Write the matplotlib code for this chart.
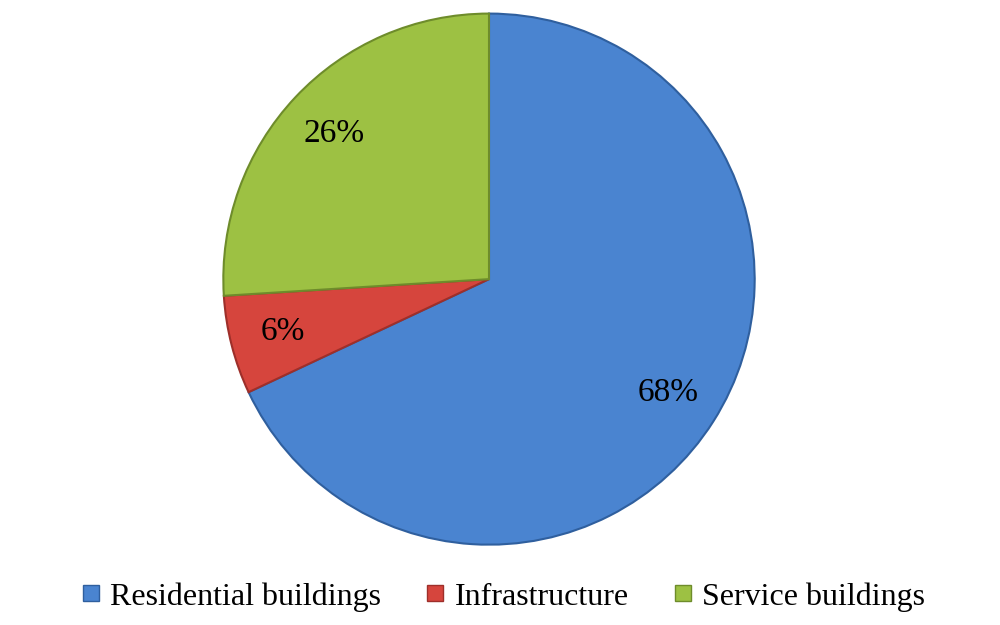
import matplotlib.pyplot as plt
from matplotlib.lines import Line2D

categories = ['Residential buildings', 'Infrastructure', 'Service buildings']
shares = [68, 6, 26]
colors = ['#4a84d0', '#d6453d', '#9dc143']
edges = ['#2f5f9e', '#9e2f2a', '#6e8c2b']

plt.rcParams['font.family'] = ['Liberation Serif', 'DejaVu Serif']

fig = plt.figure(figsize=(10, 6.25), dpi=100)
ax = fig.add_axes([0.222, 0.1264, 0.534, 0.854])
wedges, texts, autotexts = ax.pie(shares, colors=colors, startangle=90, counterclock=False,
                                  autopct='%d%%', pctdistance=0.8,
                                  wedgeprops=dict(linewidth=1.5, edgecolor='#4a4a4a'),
                                  textprops=dict(fontsize=24, color='black'))
for w, ec in zip(wedges, edges):
    w.set_edgecolor(ec)
ax.set_aspect('auto')
ax.set_xlim(-1.005, 1.005)
ax.set_ylim(-1.005, 1.005)

handles = [Line2D([], [], marker='s', linestyle='none', markersize=12,
                  markerfacecolor=c, markeredgecolor=e) for c, e in zip(colors, edges)]
fig.legend(handles, categories, loc='center', bbox_to_anchor=(0.5, 0.045), ncol=3,
           frameon=False, fontsize=23, handletextpad=0.1, columnspacing=1.2,
           handlelength=1.0)

fig.savefig('out.png', dpi=100)
